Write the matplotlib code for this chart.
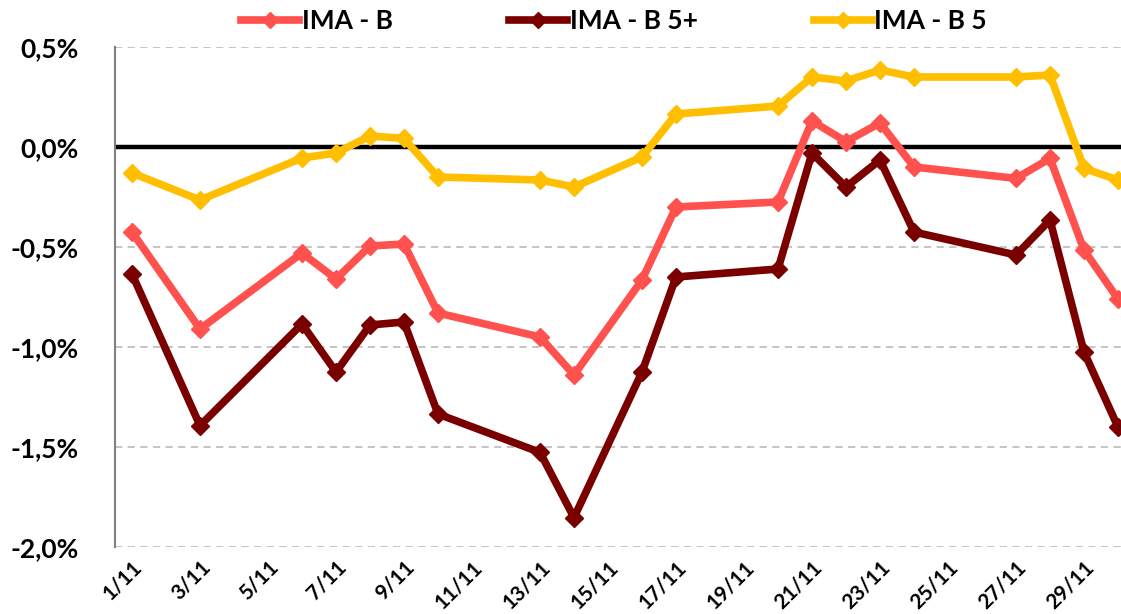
"""IMA-B: retorno diário acumulado em novembro."""

import matplotlib
matplotlib.use("Agg")
import matplotlib.pyplot as plt
from matplotlib.ticker import FuncFormatter, FixedLocator


# ---------------------------------------------------------------------------
# dados (em %)
# ---------------------------------------------------------------------------
dias = [1, 3, 6, 7, 8, 9, 10, 13, 14, 16, 17, 20, 21, 22, 23, 24, 27, 28, 29, 30]

ima_b = [-0.425, -0.91, -0.53, -0.66, -0.495, -0.485, -0.83, -0.95, -1.14, -0.665,
         -0.30, -0.275, 0.13, 0.027, 0.12, -0.10, -0.157, -0.057, -0.515, -0.76]

ima_b5_mais = [-0.635, -1.393, -0.885, -1.125, -0.89, -0.875, -1.335, -1.527, -1.853, -1.125,
               -0.65, -0.61, -0.03, -0.20, -0.065, -0.425, -0.54, -0.365, -1.025, -1.40]

ima_b5 = [-0.13, -0.265, -0.055, -0.03, 0.055, 0.043, -0.15, -0.165, -0.20, -0.05,
          0.165, 0.205, 0.35, 0.33, 0.385, 0.35, 0.35, 0.36, -0.107, -0.165]

series = [
    ("IMA - B", ima_b, "#FF514D"),
    ("IMA - B 5+", ima_b5_mais, "#7A0000"),
    ("IMA - B 5", ima_b5, "#FFBF00"),
]

dias_tick = list(range(1, 30, 2))
rotulos_tick = [f"{d}/11" for d in dias_tick]
y_ticks = [0.5, 0.0, -0.5, -1.0, -1.5, -2.0]


# ---------------------------------------------------------------------------
# figura
# ---------------------------------------------------------------------------
plt.rcParams["font.family"] = ["Lato", "DejaVu Sans"]
plt.rcParams["font.weight"] = "bold"

W, H = 1121, 614
fig = plt.figure(figsize=(W / 100, H / 100), dpi=100)
ax = fig.add_axes([115 / W, 67 / H, 1020 / W, 500 / H])

for nome, valores, cor in series:
    ax.plot(dias, valores, "-", color=cor, linewidth=5.5, marker="D",
            markersize=9.5, label=nome, zorder=3, clip_on=False)

ax.axhline(0, color="black", linewidth=3.2, zorder=2)

ax.set_xlim(0.5, 30.5)
ax.set_ylim(-2.0, 0.5)

ax.yaxis.set_major_locator(FixedLocator(y_ticks))
ax.yaxis.set_major_formatter(
    FuncFormatter(lambda v, _: f"{v:.1f}%".replace(".", ",")))
ax.set_xticks(dias_tick)
ax.set_xticklabels(rotulos_tick, rotation=45, ha="right",
                   rotation_mode="anchor", fontsize=15, fontweight="bold")
ax.tick_params(axis="y", labelsize=19, length=0, pad=26)
ax.tick_params(axis="x", length=0, pad=7)

ax.grid(axis="y", color="#BFBFBF", linestyle=(0, (4, 3)), linewidth=1.3, zorder=1)
for lado in ("top", "right", "bottom"):
    ax.spines[lado].set_visible(False)
ax.spines["left"].set_color("#808080")
ax.spines["left"].set_linewidth(1.5)

fig.legend(loc="center", bbox_to_anchor=(614 / W, 1 - 21 / H), ncol=3,
           frameon=False, fontsize=19, handlelength=2.2, handletextpad=0.1,
           columnspacing=4.4, markerscale=0.9)

fig.savefig("out.png", dpi=100)
